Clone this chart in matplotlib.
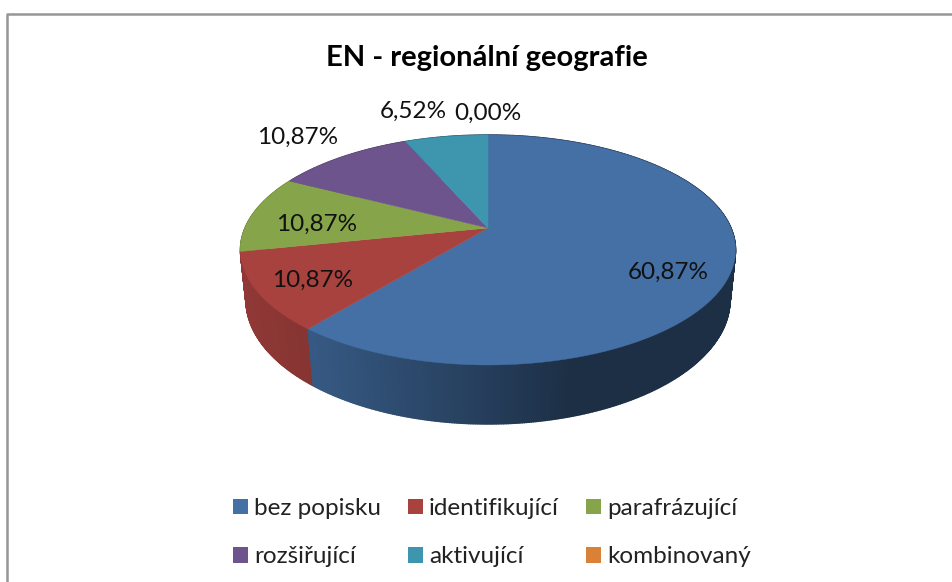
import numpy as np
import matplotlib
matplotlib.use('Agg')
import matplotlib.pyplot as plt
from matplotlib.patches import Patch

plt.rcParams['font.family'] = ['Lato', 'DejaVu Sans']

categories = ['bez popisku', 'identifikující', 'parafrázující', 'rozšiřující', 'aktivující', 'kombinovaný']
values = [60.87, 10.87, 10.87, 10.87, 6.52, 0.00]
colors = ['#4470A5', '#A8423F', '#86A44A', '#6E548D', '#3D96AE', '#DA8137']
title = 'EN - regionální geografie'


def project(theta, r=1.0, lower=False):
    # theta runs clockwise from 12 o'clock, perspective like the Excel 3D pie
    u = r * np.sin(theta)
    v = -r * np.cos(theta)
    if lower:
        a, b, k, cy = 238, 120, 0.181, 277.5
    else:
        a, b, k, cy = 243, 110.8, 0.191, 228
    d = 1 - k * v
    return 488 + a * u / d, cy + b * v / d


def shade(color, x):
    f = np.interp(x, [240, 315, 480, 570, 735], [0.86, 0.79, 0.56, 0.42, 0.42])
    return tuple(c * f for c in matplotlib.colors.to_rgb(color))


fig = plt.figure(figsize=(9.53, 5.82), dpi=100)
ax = fig.add_axes([0, 0, 1, 1])
ax.set_xlim(0, 953)
ax.set_ylim(582, 0)
ax.axis('off')

# chart frame, cut off at the right and bottom of the screenshot
ax.plot([7, 7, 953], [582, 13.5, 13.5], color='#969696', linewidth=1.8)

edges = np.cumsum([0] + values) / sum(values) * 2 * np.pi

# side wall, back strips first so the front ones cover them
strips = []
for i, col in enumerate(colors):
    if values[i] == 0:
        continue
    n = max(int((edges[i + 1] - edges[i]) / 0.008), 1)
    t = np.linspace(edges[i], edges[i + 1], n + 1)
    for t0, t1 in zip(t[:-1], t[1:]):
        strips.append((-np.cos((t0 + t1) / 2), t0, t1, col))
strips.sort(key=lambda s: s[0])
for _, t0, t1, col in strips:
    x_top, y_top = project(np.array([t0, t1]))
    x_low, y_low = project(np.array([t1, t0]), lower=True)
    c = shade(col, x_top.mean())
    ax.fill(np.r_[x_top, x_low], np.r_[y_top, y_low], color=c, linewidth=1.0)

# top face
for i, col in enumerate(colors):
    if values[i] == 0:
        continue
    t = np.linspace(edges[i], edges[i + 1], 200)
    x, y = project(t)
    cx, cy = project(0.0, r=0.0)
    ax.fill(np.r_[cx, x], np.r_[cy, y], color=col, linewidth=0.3)

ax.text(487, 58, title, fontsize=21, fontweight='bold', ha='center', va='center', color='black')

# data labels
label_pos = [(668, 272), (313, 280), (317, 224), (298, 137), (413, 111), (488, 113)]
for val, (lx, ly) in zip(values, label_pos):
    ax.text(lx, ly, f'{val:.2f}%'.replace('.', ','), fontsize=17.5, ha='center', va='center', color='#111111')

# legend is filled column by column, so reorder to get the rows right
order = [0, 3, 1, 4, 2, 5]
handles = [Patch(facecolor=colors[i], edgecolor='none', label=categories[i]) for i in order]
ax.legend(handles=handles, ncol=3, loc='upper left', bbox_to_anchor=(233 / 953, 1 - 498 / 582),
          frameon=False, prop={'size': 17.5}, labelcolor='#222222', borderpad=0, borderaxespad=0,
          handlelength=0.62, handleheight=0.62, handletextpad=0.25, columnspacing=1.1, labelspacing=1.13)

fig.savefig('out.png', dpi=100)
